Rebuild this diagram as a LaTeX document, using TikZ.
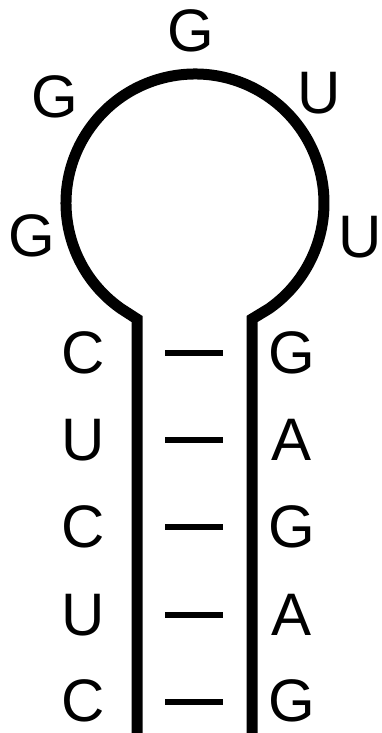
\documentclass[tikz,border=0pt]{standalone}
\usepackage{fontspec}
\setmainfont{Liberation Sans}
\begin{document}
\begin{tikzpicture}[x=1pt,y=1pt,
  base/.style={inner sep=0pt,font=\fontsize{60}{60}\selectfont},
  backbone/.style={line width=11pt,line join=miter,black},
  bp/.style={line width=6pt,black}]
\useasboundingbox (0,0) rectangle (381,733);
% backbone
\draw[backbone] (137,0) -- (137,414) -- ([shift={(195,530)}]235:129)
  arc[start angle=235,end angle=-55,radius=129] -- (252,414) -- (252,0);
% loop bases
\node[base] (l1) at (32,497) {G};
\node[base] (l2) at (55,636) {G};
\node[base] (l3) at (191,702) {G};
\node[base] (l4) at (319,640) {U};
\node[base] (l5) at (360,496) {U};
% stem bases
\node[base] (a1) at (83,380) {C};
\node[base] (a2) at (83,293) {U};
\node[base] (a3) at (83,206) {C};
\node[base] (a4) at (83,118) {U};
\node[base] (a5) at (83,32) {C};
\node[base] (b1) at (292,380) {G};
\node[base] (b2) at (292,293) {A};
\node[base] (b3) at (292,206) {G};
\node[base] (b4) at (292,118) {A};
\node[base] (b5) at (292,32) {G};
% base pairs
\foreach \i/\y in {1/380,2/293,3/206,4/118,5/31}{
  \coordinate (p\i l) at (165,\y);
  \coordinate (p\i r) at (223,\y);
  \draw[bp] (p\i l) -- (p\i r);
}
\end{tikzpicture}
\end{document}
